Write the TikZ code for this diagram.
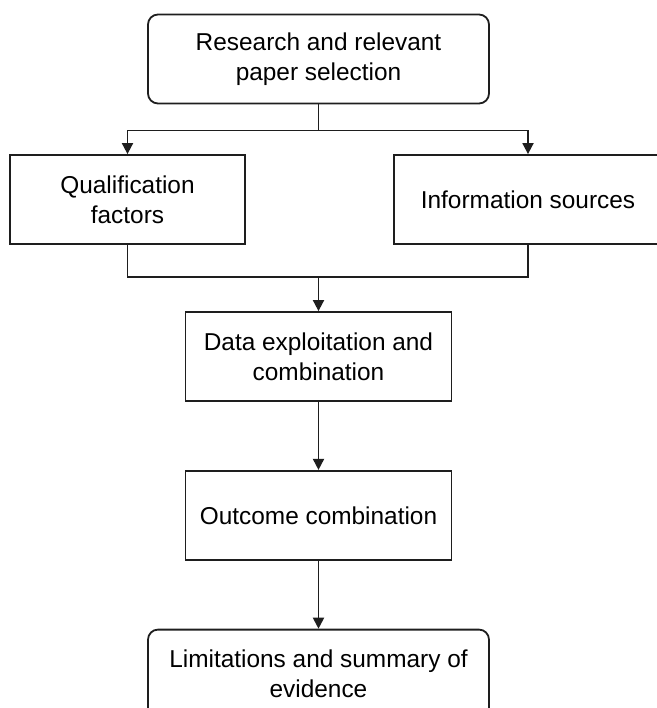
\documentclass[tikz,border=0pt]{standalone}
\usepackage{fontspec}
\setmainfont{Liberation Sans}
\usetikzlibrary{arrows.meta, positioning, calc}
\definecolor{flowInk}{HTML}{1E1E1E}

\begin{document}
\begin{tikzpicture}[
  >={Triangle[length=5.5pt,width=5.5pt]},
  font=\fontsize{12.2}{15}\selectfont,
  node distance=34pt,
  stage/.style={draw=flowInk, line width=0.9pt, align=center,
                minimum height=44.5pt, minimum width=133pt, inner sep=1pt},
  endpoint/.style={stage, rounded corners=5pt, minimum width=170.5pt},
  line/.style={->, line width=0.9pt, draw=flowInk},
  plainline/.style={line width=0.9pt, draw=flowInk}
]
\clip (0,0) rectangle (328.5pt,-354pt);

\node[endpoint] (search) at (159.25pt,-29.5pt) {Research and relevant\\paper selection};
\node[stage, minimum width=117.5pt] (quality) at (63.75pt,-99.75pt) {Qualification\\factors};
\node[stage, minimum width=134pt] (sources) at (264pt,-99.75pt) {Information sources};
\node[stage] (exploit) at (159.25pt,-178.25pt) {Data exploitation and\\combination};
\node[stage, below=of exploit] (outcome) {Outcome combination};
\node[endpoint, below=of outcome] (limits) {Limitations and summary of\\evidence};

\coordinate (split) at ($(search.south)+(0,-13pt)$);
\coordinate (merge) at ($(exploit.north)+(0,17pt)$);

\draw[line] (search.south) -- (split) -| (quality.north);
\draw[line] (split) -| (sources.north);
\draw[plainline] (quality.south) |- (merge) -| (sources.south);
\draw[line] (merge) -- (exploit.north);
\draw[line] (exploit) -- (outcome);
\draw[line] (outcome) -- (limits);

\end{tikzpicture}
\end{document}
